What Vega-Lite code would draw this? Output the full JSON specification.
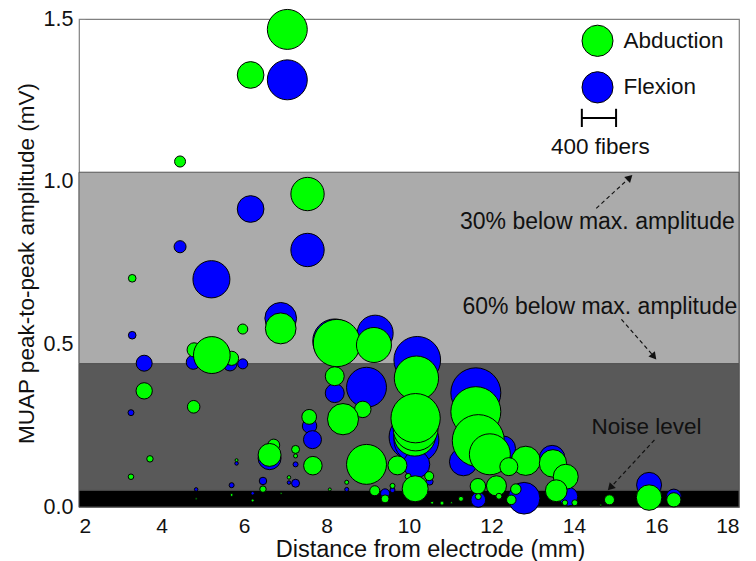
{
  "$schema": "https://vega.github.io/schema/vega-lite/v6.json",
  "width": 660,
  "height": 488,
  "autosize": {"type": "none"},
  "padding": {"left": 79, "top": 19, "right": 17, "bottom": 54},
  "background": "white",
  "config": {
    "font": "Liberation Sans",
    "view": {"stroke": "#808080", "strokeWidth": 1.2},
    "axis": {"grid": false, "domain": false, "labelFont": "Liberation Sans", "titleFont": "Liberation Sans", "labelColor": "#111", "titleColor": "#111", "titleFontWeight": "normal"}
  },
  "datasets": {
    "bands": [
      {"lo": 0, "hi": 0.052, "band": "noise"},
      {"lo": 0.052, "hi": 0.441, "band": "b60"},
      {"lo": 0.441, "hi": 1.029, "band": "b30"}
    ],
    "muaps": [
      {"m": "Flexion", "d": 7.05, "a": 1.313, "f": 470},
      {"m": "Flexion", "d": 6.16, "a": 0.916, "f": 314},
      {"m": "Flexion", "d": 4.45, "a": 0.80, "f": 141},
      {"m": "Flexion", "d": 7.54, "a": 0.79, "f": 392},
      {"m": "Flexion", "d": 5.21, "a": 0.70, "f": 435},
      {"m": "Flexion", "d": 6.89, "a": 0.58, "f": 373},
      {"m": "Flexion", "d": 9.18, "a": 0.534, "f": 423},
      {"m": "Flexion", "d": 3.29, "a": 0.528, "f": 90},
      {"m": "Flexion", "d": 8.2, "a": 0.51, "f": 517},
      {"m": "Flexion", "d": 10.2, "a": 0.452, "f": 549},
      {"m": "Flexion", "d": 4.77, "a": 0.445, "f": 165},
      {"m": "Flexion", "d": 3.58, "a": 0.442, "f": 188},
      {"m": "Flexion", "d": 5.66, "a": 0.44, "f": 165},
      {"m": "Flexion", "d": 5.97, "a": 0.44, "f": 118},
      {"m": "Flexion", "d": 8.97, "a": 0.368, "f": 470},
      {"m": "Flexion", "d": 11.62, "a": 0.351, "f": 588},
      {"m": "Flexion", "d": 8.2, "a": 0.35, "f": 223},
      {"m": "Flexion", "d": 3.26, "a": 0.29, "f": 70},
      {"m": "Flexion", "d": 7.59, "a": 0.249, "f": 170},
      {"m": "Flexion", "d": 10.05, "a": 0.215, "f": 517},
      {"m": "Flexion", "d": 7.66, "a": 0.207, "f": 212},
      {"m": "Flexion", "d": 10.18, "a": 0.206, "f": 529},
      {"m": "Flexion", "d": 12.28, "a": 0.18, "f": 294},
      {"m": "Flexion", "d": 6.62, "a": 0.15, "f": 270},
      {"m": "Flexion", "d": 13.47, "a": 0.15, "f": 302},
      {"m": "Flexion", "d": 11.32, "a": 0.139, "f": 330},
      {"m": "Flexion", "d": 5.82, "a": 0.134, "f": 41},
      {"m": "Flexion", "d": 10.18, "a": 0.131, "f": 314},
      {"m": "Flexion", "d": 7.25, "a": 0.131, "f": 59},
      {"m": "Flexion", "d": 8.9, "a": 0.12, "f": 353},
      {"m": "Flexion", "d": 6.46, "a": 0.08, "f": 88},
      {"m": "Flexion", "d": 10.5, "a": 0.078, "f": 82},
      {"m": "Flexion", "d": 7.09, "a": 0.075, "f": 41},
      {"m": "Flexion", "d": 7.25, "a": 0.073, "f": 94},
      {"m": "Flexion", "d": 15.82, "a": 0.068, "f": 294},
      {"m": "Flexion", "d": 5.7, "a": 0.067, "f": 59},
      {"m": "Flexion", "d": 4.84, "a": 0.054, "f": 41},
      {"m": "Flexion", "d": 8.49, "a": 0.054, "f": 47},
      {"m": "Flexion", "d": 9.6, "a": 0.052, "f": 59},
      {"m": "Flexion", "d": 6.21, "a": 0.042, "f": 41},
      {"m": "Flexion", "d": 9.42, "a": 0.042, "f": 106},
      {"m": "Flexion", "d": 13.86, "a": 0.032, "f": 223},
      {"m": "Flexion", "d": 16.42, "a": 0.032, "f": 176},
      {"m": "Flexion", "d": 12.79, "a": 0.027, "f": 373},
      {"m": "Flexion", "d": 11.68, "a": 0.022, "f": 173},
      {"m": "Abduction", "d": 7.05, "a": 1.468, "f": 470},
      {"m": "Abduction", "d": 6.16, "a": 1.328, "f": 314},
      {"m": "Abduction", "d": 4.45, "a": 1.062, "f": 129},
      {"m": "Abduction", "d": 7.54, "a": 0.962, "f": 392},
      {"m": "Abduction", "d": 3.29, "a": 0.703, "f": 90},
      {"m": "Abduction", "d": 6.89, "a": 0.549, "f": 361},
      {"m": "Abduction", "d": 5.97, "a": 0.547, "f": 118},
      {"m": "Abduction", "d": 8.25, "a": 0.504, "f": 553},
      {"m": "Abduction", "d": 9.15, "a": 0.498, "f": 412},
      {"m": "Abduction", "d": 4.79, "a": 0.483, "f": 165},
      {"m": "Abduction", "d": 5.7, "a": 0.457, "f": 165},
      {"m": "Abduction", "d": 5.22, "a": 0.467, "f": 431},
      {"m": "Abduction", "d": 8.2, "a": 0.402, "f": 223},
      {"m": "Abduction", "d": 10.18, "a": 0.396, "f": 521},
      {"m": "Abduction", "d": 3.58, "a": 0.357, "f": 192},
      {"m": "Abduction", "d": 4.78, "a": 0.308, "f": 147},
      {"m": "Abduction", "d": 8.88, "a": 0.30, "f": 194},
      {"m": "Abduction", "d": 11.62, "a": 0.293, "f": 588},
      {"m": "Abduction", "d": 7.58, "a": 0.277, "f": 173},
      {"m": "Abduction", "d": 8.4, "a": 0.27, "f": 365},
      {"m": "Abduction", "d": 10.14, "a": 0.221, "f": 494},
      {"m": "Abduction", "d": 10.16, "a": 0.242, "f": 529},
      {"m": "Abduction", "d": 10.16, "a": 0.273, "f": 580},
      {"m": "Abduction", "d": 11.4, "a": 0.2, "f": 294},
      {"m": "Abduction", "d": 11.68, "a": 0.204, "f": 612},
      {"m": "Abduction", "d": 6.72, "a": 0.19, "f": 141},
      {"m": "Abduction", "d": 7.25, "a": 0.177, "f": 94},
      {"m": "Abduction", "d": 11.96, "a": 0.162, "f": 482},
      {"m": "Abduction", "d": 6.62, "a": 0.16, "f": 270},
      {"m": "Abduction", "d": 7.25, "a": 0.157, "f": 47},
      {"m": "Abduction", "d": 3.72, "a": 0.148, "f": 76},
      {"m": "Abduction", "d": 5.82, "a": 0.144, "f": 35},
      {"m": "Abduction", "d": 12.83, "a": 0.142, "f": 341},
      {"m": "Abduction", "d": 13.49, "a": 0.134, "f": 321},
      {"m": "Abduction", "d": 8.97, "a": 0.131, "f": 470},
      {"m": "Abduction", "d": 9.72, "a": 0.128, "f": 223},
      {"m": "Abduction", "d": 7.67, "a": 0.127, "f": 218},
      {"m": "Abduction", "d": 12.42, "a": 0.124, "f": 212},
      {"m": "Abduction", "d": 10.49, "a": 0.095, "f": 106},
      {"m": "Abduction", "d": 9.98, "a": 0.094, "f": 70},
      {"m": "Abduction", "d": 3.26, "a": 0.093, "f": 65},
      {"m": "Abduction", "d": 13.8, "a": 0.093, "f": 294},
      {"m": "Abduction", "d": 7.09, "a": 0.091, "f": 41},
      {"m": "Abduction", "d": 8.49, "a": 0.076, "f": 47},
      {"m": "Abduction", "d": 9.6, "a": 0.065, "f": 59},
      {"m": "Abduction", "d": 12.12, "a": 0.065, "f": 235},
      {"m": "Abduction", "d": 11.67, "a": 0.064, "f": 182},
      {"m": "Abduction", "d": 10.15, "a": 0.056, "f": 306},
      {"m": "Abduction", "d": 6.46, "a": 0.055, "f": 76},
      {"m": "Abduction", "d": 12.59, "a": 0.055, "f": 123},
      {"m": "Abduction", "d": 8.08, "a": 0.054, "f": 35},
      {"m": "Abduction", "d": 9.17, "a": 0.05, "f": 118},
      {"m": "Abduction", "d": 13.57, "a": 0.05, "f": 255},
      {"m": "Abduction", "d": 6.9, "a": 0.042, "f": 24},
      {"m": "Abduction", "d": 5.7, "a": 0.037, "f": 35},
      {"m": "Abduction", "d": 12.18, "a": 0.033, "f": 70},
      {"m": "Abduction", "d": 11.68, "a": 0.032, "f": 70},
      {"m": "Abduction", "d": 15.82, "a": 0.029, "f": 300},
      {"m": "Abduction", "d": 4.84, "a": 0.025, "f": 24},
      {"m": "Abduction", "d": 9.42, "a": 0.025, "f": 94},
      {"m": "Abduction", "d": 11.26, "a": 0.025, "f": 59},
      {"m": "Abduction", "d": 12.48, "a": 0.022, "f": 112},
      {"m": "Abduction", "d": 14.86, "a": 0.022, "f": 118},
      {"m": "Abduction", "d": 16.42, "a": 0.022, "f": 168},
      {"m": "Abduction", "d": 6.21, "a": 0.02, "f": 35},
      {"m": "Abduction", "d": 10.56, "a": 0.013, "f": 35},
      {"m": "Abduction", "d": 10.8, "a": 0.012, "f": 47},
      {"m": "Abduction", "d": 11.03, "a": 0.013, "f": 24},
      {"m": "Abduction", "d": 13.78, "a": 0.013, "f": 65},
      {"m": "Abduction", "d": 14.02, "a": 0.013, "f": 70},
      {"m": "Abduction", "d": 14.65, "a": 0.006, "f": 24}
    ],
    "legendPts": [
      {"m": "Abduction", "d": 14.57, "a": 1.433, "f": 365},
      {"m": "Flexion", "d": 14.57, "a": 1.29, "f": 365}
    ],
    "scalebar": [
      {"x0": 14.19, "y0": 1.196, "x1": 15.02, "y1": 1.196},
      {"x0": 14.19, "y0": 1.168, "x1": 14.19, "y1": 1.224},
      {"x0": 15.02, "y0": 1.168, "x1": 15.02, "y1": 1.224}
    ],
    "arrows": [
      {"id": "a30", "x0": 14.54, "y0": 0.918, "x1": 15.33, "y1": 1.01},
      {"id": "a60", "x0": 15.15, "y0": 0.577, "x1": 15.92, "y1": 0.465},
      {"id": "noise", "x0": 15.95, "y0": 0.206, "x1": 14.9, "y1": 0.062}
    ]
  },
  "layer": [
    {
      "data": {"name": "bands"},
      "mark": {"type": "rect", "stroke": "#555", "strokeWidth": 1},
      "encoding": {
        "y": {"field": "lo", "type": "quantitative", "scale": {"domain": [0, 1.5], "nice": false, "zero": false},
          "axis": {"values": [0, 0.5, 1, 1.5], "format": ".1f", "labelFontSize": 21.5, "titleFontSize": 22.5, "tickSize": -6, "tickColor": "#888", "labelPadding": 12, "titlePadding": 5,
            "title": "MUAP peak-to-peak amplitude (mV)"}},
        "y2": {"field": "hi"},
        "color": {"field": "band", "type": "nominal", "legend": null,
          "scale": {"domain": ["Abduction", "Flexion", "noise", "b60", "b30"], "range": ["#00ff00", "#0000ff", "#000000", "#595959", "#ababab"]}}
      }
    },
    {
      "data": {"name": "muaps"},
      "mark": {"type": "point", "shape": "circle", "filled": true, "opacity": 1, "stroke": "#000", "strokeWidth": 1},
      "encoding": {
        "x": {"field": "d", "type": "quantitative", "scale": {"domain": [2, 18], "nice": false, "zero": false},
          "axis": {"values": [2, 4, 6, 8, 10, 12, 14, 16, 18], "labelFontSize": 21, "titleFontSize": 23.5, "ticks": false, "labelPadding": 8, "titlePadding": 1, "titleX": 351,
            "title": "Distance from electrode  (mm)"}},
        "y": {"field": "a", "type": "quantitative"},
        "size": {"field": "f", "type": "quantitative", "legend": null, "scale": {"type": "pow", "exponent": 2, "domain": [0, 800], "range": [0, 4624]}},
        "color": {"field": "m", "type": "nominal"}
      }
    },
    {
      "data": {"name": "legendPts"},
      "mark": {"type": "point", "shape": "circle", "filled": true, "opacity": 1, "stroke": "#000", "strokeWidth": 1},
      "encoding": {
        "x": {"field": "d", "type": "quantitative"},
        "y": {"field": "a", "type": "quantitative"},
        "size": {"field": "f", "type": "quantitative"},
        "color": {"field": "m", "type": "nominal"}
      }
    },
    {
      "data": {"values": [
        {"t": "Abduction", "d": 15.2, "a": 1.433},
        {"t": "Flexion", "d": 15.2, "a": 1.29}
      ]},
      "mark": {"type": "text", "align": "left", "baseline": "middle", "fontSize": 22.5, "color": "#111"},
      "encoding": {
        "x": {"field": "d", "type": "quantitative"},
        "y": {"field": "a", "type": "quantitative"},
        "text": {"field": "t"}
      }
    },
    {
      "data": {"name": "scalebar"},
      "mark": {"type": "rule", "color": "#000", "strokeWidth": 2},
      "encoding": {
        "x": {"field": "x0", "type": "quantitative"},
        "y": {"field": "y0", "type": "quantitative"},
        "x2": {"field": "x1"},
        "y2": {"field": "y1"}
      }
    },
    {
      "data": {"name": "arrows"},
      "mark": {"type": "rule", "color": "#111", "strokeWidth": 1.2, "strokeDash": [4, 3]},
      "encoding": {
        "x": {"field": "x0", "type": "quantitative"},
        "y": {"field": "y0", "type": "quantitative"},
        "x2": {"field": "x1"},
        "y2": {"field": "y1"}
      }
    },
    {
      "data": {"name": "arrows"},
      "transform": [{"filter": "datum.id == 'a30'"}],
      "mark": {"type": "point", "shape": "triangle", "filled": true, "opacity": 1, "color": "#111", "size": 70, "angle": 46},
      "encoding": {
        "x": {"field": "x1", "type": "quantitative"},
        "y": {"field": "y1", "type": "quantitative"}
      }
    },
    {
      "data": {"name": "arrows"},
      "transform": [{"filter": "datum.id == 'a60'"}],
      "mark": {"type": "point", "shape": "triangle", "filled": true, "opacity": 1, "color": "#111", "size": 70, "angle": 140},
      "encoding": {
        "x": {"field": "x1", "type": "quantitative"},
        "y": {"field": "y1", "type": "quantitative"}
      }
    },
    {
      "data": {"name": "arrows"},
      "transform": [{"filter": "datum.id == 'noise'"}],
      "mark": {"type": "point", "shape": "triangle", "filled": true, "opacity": 1, "color": "#111", "size": 70, "angle": 223},
      "encoding": {
        "x": {"field": "x1", "type": "quantitative"},
        "y": {"field": "y1", "type": "quantitative"}
      }
    },
    {
      "data": {"values": [
        {"t": "30% below max. amplitude", "d": 17.9, "a": 0.877},
        {"t": "60% below max. amplitude", "d": 17.96, "a": 0.616}
      ]},
      "mark": {"type": "text", "align": "right", "baseline": "middle", "fontSize": 23, "color": "#111"},
      "encoding": {
        "x": {"field": "d", "type": "quantitative"},
        "y": {"field": "a", "type": "quantitative"},
        "text": {"field": "t"}
      }
    },
    {
      "data": {"values": [
        {"t": "Noise level", "d": 15.76, "a": 0.247},
        {"t": "400 fibers", "d": 14.64, "a": 1.108}
      ]},
      "mark": {"type": "text", "align": "center", "baseline": "middle", "fontSize": 22.5, "color": "#111"},
      "encoding": {
        "x": {"field": "d", "type": "quantitative"},
        "y": {"field": "a", "type": "quantitative"},
        "text": {"field": "t"}
      }
    }
  ]
}
